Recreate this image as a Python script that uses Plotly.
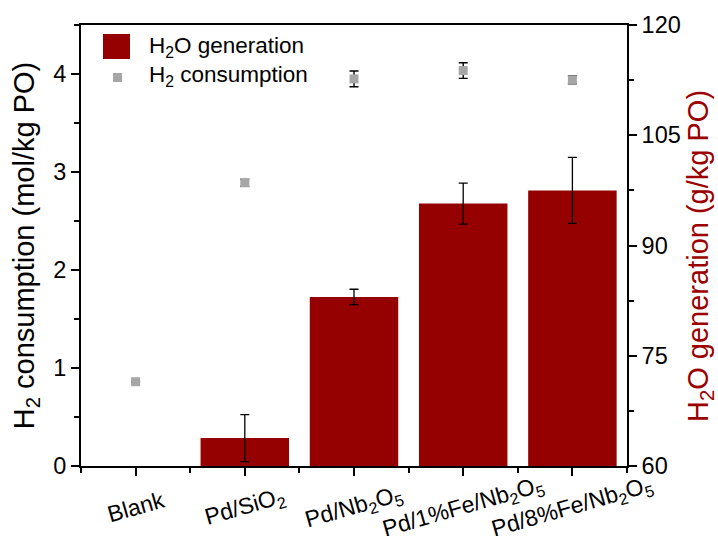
import plotly.graph_objects as go

categories = ["Blank", "Pd/SiO<sub>2</sub>", "Pd/Nb<sub>2</sub>O<sub>5</sub>",
              "Pd/1%Fe/Nb<sub>2</sub>O<sub>5</sub>", "Pd/8%Fe/Nb<sub>2</sub>O<sub>5</sub>"]
h2o_generation = [None, 63.8, 83.0, 95.7, 97.5]
h2o_error = [None, 3.2, 1.05, 2.8, 4.5]
h2_consumption = [0.86, 2.89, 3.95, 4.035, 3.94]
h2_error = [0, 0.035, 0.08, 0.08, 0.04]
left_ticks = [0, 1, 2, 3, 4]
right_ticks = [60, 75, 90, 105, 120]

h2o_name = "H<sub>2</sub>O generation"
h2_name = "H<sub>2</sub> consumption"

BAR = "#950000"
GREY = "#A6A6A6"
FONT = "Arial, Liberation Sans, sans-serif"

xs = list(range(len(categories)))

fig = go.Figure()
fig.add_trace(go.Bar(
    x=xs, y=h2o_generation, yaxis="y2", name=h2o_name, width=0.81,
    marker=dict(color=BAR, line=dict(width=0)),
    error_y=dict(type="data", array=h2o_error, color="black", thickness=1.3, width=4.5),
    showlegend=False))
fig.add_trace(go.Scatter(
    x=xs, y=h2_consumption, yaxis="y", mode="markers", name=h2_name,
    marker=dict(symbol="square", size=9, color=GREY),
    error_y=dict(type="data", array=h2_error, color="black", thickness=1.4, width=4.5),
    showlegend=False))

L, R, T, B = 81, 91, 25, 70
W, H = 718, 536
pw, ph = W - L - R, H - T - B

def px(x):
    return (x - L) / pw

def py(y):
    return (H - B - y) / ph

shapes = [
    dict(type="rect", xref="paper", yref="paper", x0=px(103), x1=px(130), y0=py(59), y1=py(34),
         fillcolor=BAR, line=dict(width=0)),
    dict(type="rect", xref="paper", yref="paper", x0=px(113), x1=px(122), y0=py(82), y1=py(73),
         fillcolor=GREY, line=dict(width=0)),
]

annotations = [
    dict(text=h2o_name, xref="paper", yref="paper", x=px(147), y=py(47), xanchor="left",
         yanchor="middle", showarrow=False, font=dict(size=22.5, color="black", family=FONT)),
    dict(text=h2_name, xref="paper", yref="paper", x=px(147), y=py(76), xanchor="left",
         yanchor="middle", showarrow=False, font=dict(size=22.5, color="black", family=FONT)),
    dict(text="H<sub>2</sub>O generation (g/kg PO)", xref="paper", yref="paper",
         x=px(700), y=py(256), xanchor="center", yanchor="middle", textangle=-90,
         showarrow=False, font=dict(size=29, color="#9B0000", family=FONT)),
]
for i, c in enumerate(categories):
    annotations.append(dict(text=c, x=i, xref="x", yref="paper", y=py(507), xanchor="center",
                            yanchor="middle", textangle=-16, showarrow=False,
                            font=dict(size=23, color="black", family=FONT)))

fig.update_layout(
    width=W, height=H, margin=dict(l=L, r=R, t=T, b=B),
    paper_bgcolor="white", plot_bgcolor="white",
    font=dict(family=FONT, size=23.5, color="black"),
    xaxis=dict(range=[-0.5, 4.5], tickmode="array", tickvals=xs, showticklabels=False,
               ticks="outside", ticklen=8, tickwidth=1.5, tickcolor="black",
               minor=dict(tickmode="array", tickvals=[-0.5, 0.5, 1.5, 2.5, 3.5, 4.5],
                          ticks="outside", ticklen=5, tickwidth=1.5, tickcolor="black"),
               showline=True, linecolor="black", linewidth=1.8, mirror=True,
               showgrid=False, zeroline=False),
    yaxis=dict(range=[0, 4.5], tickmode="array", tickvals=left_ticks,
               ticks="outside", ticklen=8, tickwidth=1.5, tickcolor="black",
               minor=dict(dtick=0.5, tick0=0, ticks="outside", ticklen=5, tickwidth=1.5,
                          tickcolor="black"),
               showline=True, linecolor="black", linewidth=1.8,
               showgrid=False, zeroline=False, tickfont=dict(size=23.5),
               title=dict(text="H<sub>2</sub> consumption (mol/kg PO)",
                          font=dict(size=29, color="black"), standoff=10)),
    yaxis2=dict(range=[60, 120], overlaying="y", side="right", tickmode="array",
                tickvals=right_ticks, ticks="outside", ticklen=8, tickwidth=1.5,
                tickcolor="black",
                minor=dict(dtick=7.5, tick0=60, ticks="outside", ticklen=5, tickwidth=1.5,
                           tickcolor="black"),
                showline=True, linecolor="black", linewidth=1.8,
                showgrid=False, zeroline=False, tickfont=dict(size=23.5)),
    shapes=shapes, annotations=annotations,
)

fig.write_html("out.html")
